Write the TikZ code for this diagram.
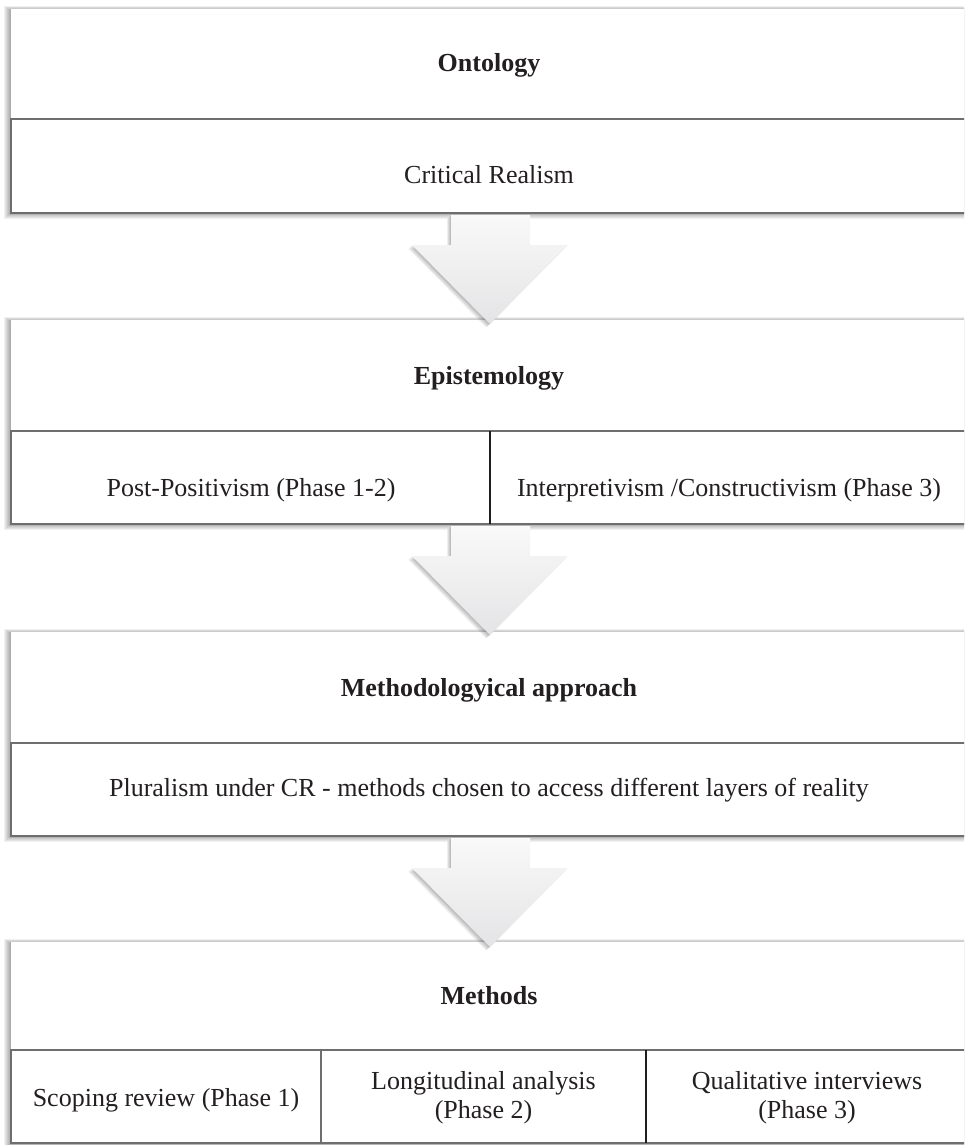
\documentclass[tikz,border=0pt]{standalone}
\usepackage{fontspec}
\setmainfont{Liberation Serif}
\definecolor{cellgray}{HTML}{6E6E6E}
\definecolor{txtc}{HTML}{231F20}
\definecolor{arrtop}{HTML}{F9F9F9}
\definecolor{arrbot}{HTML}{E4E4E6}
\tikzset{
  titlearea/.style={fill=white, draw=none, inner sep=0pt, outer sep=0pt, anchor=north west},
  rowcell/.style={fill=white, draw=cellgray, line width=1.4pt, inner sep=0pt, outer sep=0pt, anchor=north west},
  titletext/.style={font=\fontsize{26}{29}\selectfont\bfseries, text=txtc, anchor=base, inner sep=0pt},
  celltext/.style={font=\fontsize{26}{29}\selectfont, text=txtc, anchor=base, inner sep=0pt, align=center},
  twoline/.style={font=\fontsize{26}{29}\selectfont, text=txtc, anchor=center, inner sep=0pt, align=center},
  thickdiv/.style={draw=black!88, line width=2.6pt},
  thindiv/.style={draw=cellgray, line width=1.4pt},
  arrowfill/.style={top color=arrtop, bottom color=arrbot, draw=none},
  shadowlayer/.style={fill=black, opacity=0.055, draw=none}
}
% shadow of a block: #1 top, #2 bottom
\newcommand{\blockshadow}[2]{%
  \foreach \k in {1,...,7}{%
    \fill[shadowlayer] (11-\k*1.0, #1-\k*0.55+1.2) rectangle (980, #2+\k*0.8);
  }%
}
% down arrow below a block whose bottom edge is at #1
\newcommand{\downarrowpath}[1]{%
  (451,#1+2) -- (530,#1+2) -- (530,#1+32) -- (568,#1+32) -- (490,#1+111) -- (412,#1+32) -- (451,#1+32) -- cycle
}
\begin{document}
\begin{tikzpicture}[x=1pt,y=-1pt]
\useasboundingbox (0,0) rectangle (964,1145);
\clip (0,0) rectangle (964,1145);

% ---------- Block 1 : Ontology ----------
\blockshadow{9}{213}
\node[titlearea, minimum width=970pt, minimum height=110pt] (ontT) at (11,9) {};
\node[rowcell, minimum width=970pt, minimum height=94pt] (ontR) at (11,119) {};
\node[titletext] (ontology) at (489,72) {Ontology};
\node[celltext] (cr) at (489,183) {Critical Realism};

% ---------- Block 2 : Epistemology ----------
\blockshadow{320}{524}
\node[titlearea, minimum width=970pt, minimum height=111pt] (epiT) at (11,320) {};
\node[rowcell, minimum width=970pt, minimum height=93pt] (epiR) at (11,431) {};
\draw[thickdiv] (490,431) -- (490,524);
\node[titletext] (episte) at (489,384) {Epistemology};
\node[celltext] (pp) at (251,496) {Post-Positivism (Phase 1-2)};
\node[celltext] (ic) at (729,496) {Interpretivism /Constructivism (Phase 3)};

% ---------- Block 3 : Methodological approach ----------
\blockshadow{632}{836}
\node[titlearea, minimum width=970pt, minimum height=111pt] (metT) at (11,632) {};
\node[rowcell, minimum width=970pt, minimum height=93pt] (metR) at (11,743) {};
\node[titletext] (metap) at (489,696) {Methodologyical approach};
\node[celltext] (plur) at (489,796) {Pluralism under CR - methods chosen to access different layers of reality};

% ---------- Block 4 : Methods ----------
\blockshadow{942}{1143}
\node[titlearea, minimum width=970pt, minimum height=108pt] (mthT) at (11,942) {};
\node[rowcell, minimum width=970pt, minimum height=93pt] (mthR) at (11,1050) {};
\draw[thindiv] (321,1050) -- (321,1143);
\draw[thickdiv] (646,1050) -- (646,1143);
\node[titletext] (methods) at (489,1004) {Methods};
\node[celltext] (scop) at (166,1106) {Scoping review (Phase 1)};
\node[twoline] (long) at (483.5,1098) {Longitudinal analysis\\(Phase 2)};
\node[twoline] (qual) at (807,1098) {Qualitative interviews\\(Phase 3)};

% ---------- Arrows ----------
\foreach \b in {213,524,836}{
  \foreach \k in {1,...,5}{
    \fill[shadowlayer, opacity=0.06, xshift=-\k*0.8pt, yshift=-\k*0.7pt] \downarrowpath{\b};
  }
  \shade[arrowfill] \downarrowpath{\b};
}
\end{tikzpicture}
\end{document}
